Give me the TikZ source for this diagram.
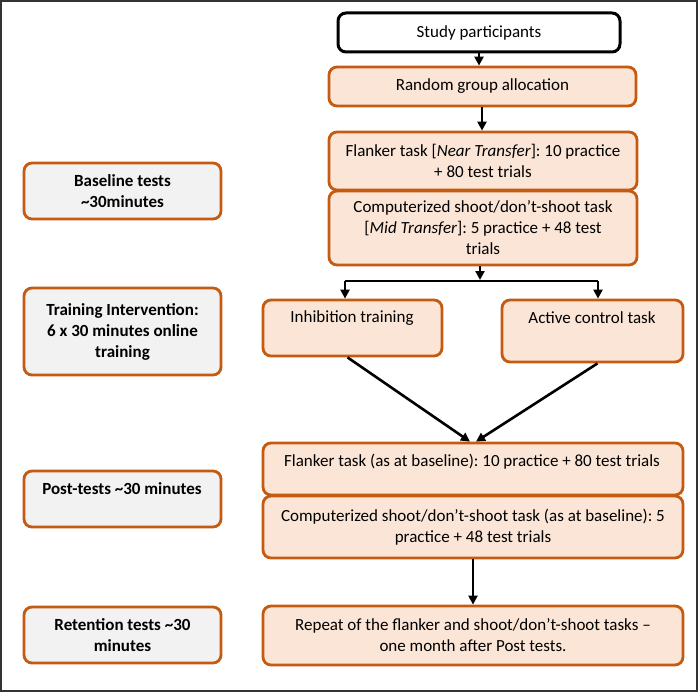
\documentclass[tikz,border=0pt]{standalone}
\usepackage{fontspec}
\setmainfont{Carlito}
\frenchspacing
\usetikzlibrary{arrows.meta,calc}
\definecolor{obrown}{HTML}{C55A11}
\definecolor{peach}{HTML}{FBE5D6}
\definecolor{lgray}{HTML}{F2F2F2}
\tikzset{
  txt/.style={font=\fontsize{17}{21}\selectfont, align=center, inner sep=0pt},
  box/.style={txt, draw=obrown, fill=peach, line width=2.8pt, rounded corners=8pt},
  lbox/.style={box, fill=lgray, font=\fontsize{17}{21}\selectfont\bfseries},
  startbox/.style={txt, draw=black, fill=white, line width=3pt, rounded corners=8pt},
  arr/.style={line width=2.6pt, -{Triangle[length=9pt,width=9pt]}},
  plain/.style={line width=2.6pt},
}
\begin{document}
\begin{tikzpicture}[x=1pt,y=-1pt]
\useasboundingbox (0,0) rectangle (698,693);
\draw[line width=1.5pt, black!80] (1,1) rectangle (697,691);

% right column
\node[startbox, minimum width=282pt, minimum height=39pt] (study) at (479,32.5) {Study participants};
\node[box, minimum width=307pt, minimum height=39pt] (random) at (482.5,86.5) {Random group allocation};
\node[box, minimum width=308pt, minimum height=58pt] (flank) at (483,161) {Flanker task [\textit{Near Transfer}]: 10 practice\\+ 80 test trials};
\node[box, minimum width=308pt, minimum height=74pt] (comp) at (483,228) {Computerized shoot/don’t-shoot task\\{}[\textit{Mid Transfer}]: 5 practice + 48 test\\trials};
\node[box, minimum width=179pt, minimum height=56pt] (inhib) at (352.5,328) {};
\node[txt] at (352,318) {Inhibition training};
\node[box, minimum width=181pt, minimum height=62pt] (active) at (592.5,331) {};
\node[txt] at (592,318) {Active control task};
\node[box, minimum width=420pt, minimum height=52pt] (postf) at (473,469) {};
\node[txt] at (472,462) {Flanker task (as at baseline): 10 practice + 80 test trials};
\node[box, minimum width=420pt, minimum height=62pt] (postc) at (473,527) {Computerized shoot/don’t-shoot task (as at baseline): 5\\practice + 48 test trials};
\node[box, minimum width=420pt, minimum height=59pt] (repeat) at (473,635.5) {Repeat of the flanker and shoot/don’t-shoot tasks –\\one month after Post tests.};

% left column
\node[lbox, minimum width=197pt, minimum height=56pt] (base) at (122.5,191) {Baseline tests\\\textasciitilde30minutes};
\node[lbox, minimum width=197pt, minimum height=87pt] (train) at (122.5,331.5) {Training Intervention:\\6 x 30 minutes online\\training};
\node[lbox, minimum width=197pt, minimum height=56pt] (post) at (122.5,499) {};
\node[txt, font=\fontsize{17}{21}\selectfont\bfseries] at (122,489) {Post-tests \textasciitilde30 minutes};
\node[lbox, minimum width=197pt, minimum height=56pt] (ret) at (122.5,635) {Retention tests \textasciitilde30\\minutes};

% connectors
\draw[arr] (study.south) -- (study.south |- random.north);
\draw[arr] (random.south -| 482,0) -- (flank.north -| 482,0);
\coordinate (split) at (480,281);
\coordinate (sl) at (345,281);
\coordinate (sr) at (598,281);
\draw[arr, shorten >=1pt] (comp.south -| split) -- (split);
\draw[plain] (sl) -- (sr);
\draw[arr] (sl) -- (sl |- inhib.north);
\draw[arr] (sr) -- (sr |- active.north);
\draw[arr] ($(inhib.south)+(-5,0)$) -- ($(postf.north)+(-3,0)$);
\draw[arr] ($(active.south)+(5,0)$) -- ($(postf.north)+(3,0)$);
\draw[arr] (postc.south) -- (repeat.north);
\end{tikzpicture}
\end{document}
